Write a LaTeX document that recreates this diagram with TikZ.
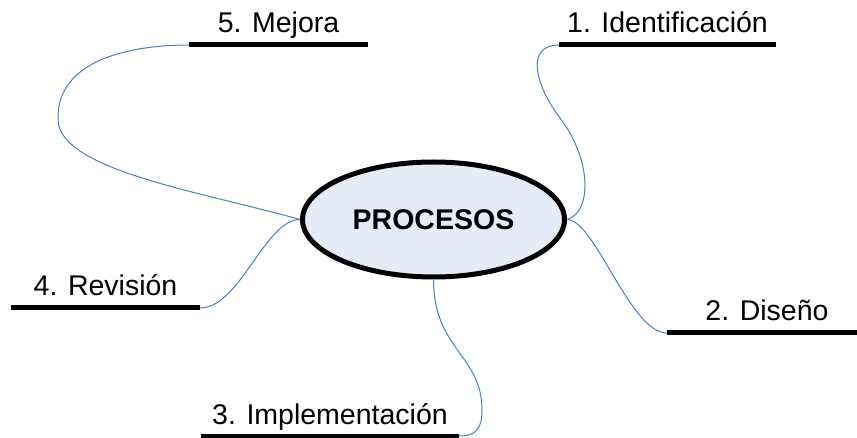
\documentclass[tikz,border=0pt]{standalone}
\usepackage{fontspec}
\setmainfont{Liberation Sans}
\usepackage{tikz}
\usetikzlibrary{shapes.geometric}
\definecolor{mylink}{RGB}{74,126,200}
\definecolor{myfill}{RGB}{230,236,247}
\tikzset{
  centro/.style={ellipse, draw=black, fill=myfill, line width=5pt,
    minimum width=262pt, minimum height=115pt, inner sep=0pt,
    font=\fontsize{28.5}{34}\selectfont\bfseries},
  rama/.style={rectangle, inner sep=0pt, outer sep=0pt, text depth=12pt,
    align=center, anchor=south west, font=\fontsize{28.5}{34}\selectfont},
  barra/.style={line width=5pt, color=black},
  enlace/.style={line width=1pt, color=mylink}
}

\begin{document}
\begin{tikzpicture}[x=1pt, y=-1pt]
  \useasboundingbox (0,0) rectangle (857,438);
  % central idea
  \node[centro] (proc) at (433.5,219.5) {PROCESOS};
  % branches
  \node[rama, minimum width=179pt] (mejora) at (189,45) {5. Mejora};
  \node[rama, minimum width=217pt] (ident) at (559,45) {1. Identificación};
  \node[rama, minimum width=190pt] (diseno) at (667,333) {\hspace*{10pt}2. Diseño};
  \node[rama, minimum width=258pt] (impl) at (201,436) {3. Implementación};
  \node[rama, minimum width=189pt] (revision) at (11,308) {4. Revisión};
  \foreach \n in {mejora, ident, diseno, impl, revision}
    \draw[barra] (\n.south west) -- (\n.south east);
  % turning points of the longer links
  \coordinate (c5) at (58,120);
  \coordinate (c1) at (560,118);
  \coordinate (c3) at (482,410);
  % links
  \draw[enlace] (proc.west) .. controls +(-100,-28) and +(2,50) .. (c5)
        .. controls +(-2,-60) and +(-59,0) .. (mejora.south west);
  \draw[enlace] (proc.east) .. controls +(25,-7) and +(32,42) .. (c1)
        .. controls +(-25,-33) and +(-34,0) .. (ident.south west);
  \draw[enlace] (proc.east) .. controls +(28,0) and +(-37,0) .. (diseno.south west);
  \draw[enlace] (proc.south) .. controls +(0,70) and +(0,-55) .. (c3)
        .. controls +(0,20) and +(16,0) .. (impl.south east);
  \draw[enlace] (proc.west) .. controls +(-35,0) and +(40,0) .. (revision.south east);
\end{tikzpicture}
\end{document}
